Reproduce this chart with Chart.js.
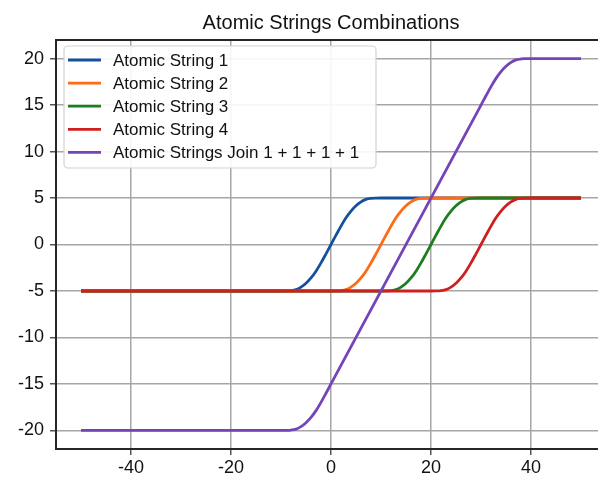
<!DOCTYPE html>
<html>
<head>
<meta charset="utf-8">
<title>Atomic Strings Combinations</title>
<script src="https://cdn.jsdelivr.net/npm/chart.js@4.4.1/dist/chart.umd.min.js"></script>
<style>
  html, body { margin: 0; padding: 0; background: #ffffff; }
  #wrap { width: 598px; height: 477px; overflow: hidden; position: relative; }
  #chart { display: block; }
</style>
</head>
<body>
<div id="wrap"><canvas id="chart" width="612" height="477"></canvas></div>
<script>
// Atomic string 1: smooth step from -5 to 5 centred on x = 0
const string1X = [-50, -10, -9, -8, -7, -6, -5, -4, -3, -2, -1, 0, 1, 2, 3, 4, 5, 6, 7, 8, 9, 10, 50];
const string1Y = [-5, -5, -4.99, -4.96, -4.86, -4.59, -4.17, -3.6, -2.87, -1.98, -1, 0, 1, 1.98, 2.87, 3.6, 4.17, 4.59, 4.86, 4.96, 4.99, 5, 5];

// Atomic string 2: centred on x = 10
const string2X = [-50, 0, 1, 2, 3, 4, 5, 6, 7, 8, 9, 10, 11, 12, 13, 14, 15, 16, 17, 18, 19, 20, 50];
const string2Y = [-5, -5, -4.99, -4.96, -4.86, -4.59, -4.17, -3.6, -2.87, -1.98, -1, 0, 1, 1.98, 2.87, 3.6, 4.17, 4.59, 4.86, 4.96, 4.99, 5, 5];

// Atomic string 3: centred on x = 20
const string3X = [-50, 10, 11, 12, 13, 14, 15, 16, 17, 18, 19, 20, 21, 22, 23, 24, 25, 26, 27, 28, 29, 30, 50];
const string3Y = [-5, -5, -4.99, -4.96, -4.86, -4.59, -4.17, -3.6, -2.87, -1.98, -1, 0, 1, 1.98, 2.87, 3.6, 4.17, 4.59, 4.86, 4.96, 4.99, 5, 5];

// Atomic string 4: centred on x = 30
const string4X = [-50, 20, 21, 22, 23, 24, 25, 26, 27, 28, 29, 30, 31, 32, 33, 34, 35, 36, 37, 38, 39, 40, 50];
const string4Y = [-5, -5, -4.99, -4.96, -4.86, -4.59, -4.17, -3.6, -2.87, -1.98, -1, 0, 1, 1.98, 2.87, 3.6, 4.17, 4.59, 4.86, 4.96, 4.99, 5, 5];

// Joined string 1 + 1 + 1 + 1: from -20 up to 20
const joinX = [-50, -10, -9, -8, -7, -6, -5, -4, -3, -2, -1, 0, 30, 31, 32, 33, 34, 35, 36, 37, 38, 39, 40, 50];
const joinY = [-20, -20, -19.99, -19.96, -19.86, -19.59, -19.17, -18.6, -17.87, -16.98, -16, -15, 15, 16, 16.98, 17.87, 18.6, 19.17, 19.59, 19.86, 19.96, 19.99, 20, 20];

const seriesLabels = ['Atomic String 1', 'Atomic String 2', 'Atomic String 3', 'Atomic String 4', 'Atomic Strings Join 1 + 1 + 1 + 1'];
const seriesColors = ['#15509e', '#ff6a14', '#1e7e1e', '#cf1f1f', '#7444b8'];
const chartTitle = 'Atomic Strings Combinations';
const xTickStep = 20;
const yTickStep = 5;

const FONT = '"Liberation Sans", Arial, Helvetica, sans-serif';

function toPoints(xs, ys) {
  return xs.map((x, i) => ({ x: x, y: ys[i] }));
}

const seriesData = [
  toPoints(string1X, string1Y),
  toPoints(string2X, string2Y),
  toPoints(string3X, string3Y),
  toPoints(string4X, string4Y),
  toPoints(joinX, joinY)
];

// later series sit on top of earlier ones
const datasets = seriesData.map((pts, i) => ({
  label: seriesLabels[i],
  data: pts,
  borderColor: seriesColors[i],
  backgroundColor: seriesColors[i],
  borderWidth: 2.8,
  pointRadius: 0,
  fill: false,
  cubicInterpolationMode: 'monotone',
  order: seriesData.length - 1 - i
}));

// Axes frame, title and the boxed legend inside the plot
const decorations = {
  id: 'decorations',
  afterDatasetsDraw(chart) {
    const { ctx, chartArea } = chart;
    ctx.save();

    // frame
    ctx.strokeStyle = '#262626';
    ctx.lineWidth = 2;
    ctx.strokeRect(chartArea.left, chartArea.top, chartArea.right - chartArea.left, chartArea.bottom - chartArea.top);

    // title
    ctx.fillStyle = '#111111';
    ctx.font = '20px ' + FONT;
    ctx.textAlign = 'center';
    ctx.textBaseline = 'alphabetic';
    ctx.fillText(chartTitle, (chartArea.left + chartArea.right) / 2, 29);

    // legend box
    const bx = 64, by = 46, bw = 312, bh = 122, r = 4;
    ctx.beginPath();
    ctx.moveTo(bx + r, by);
    ctx.lineTo(bx + bw - r, by);
    ctx.arcTo(bx + bw, by, bx + bw, by + r, r);
    ctx.lineTo(bx + bw, by + bh - r);
    ctx.arcTo(bx + bw, by + bh, bx + bw - r, by + bh, r);
    ctx.lineTo(bx + r, by + bh);
    ctx.arcTo(bx, by + bh, bx, by + bh - r, r);
    ctx.lineTo(bx, by + r);
    ctx.arcTo(bx, by, bx + r, by, r);
    ctx.closePath();
    ctx.fillStyle = 'rgba(255,255,255,0.9)';
    ctx.fill();
    ctx.strokeStyle = '#d2d2d2';
    ctx.lineWidth = 1.2;
    ctx.stroke();

    ctx.font = '17px ' + FONT;
    ctx.textAlign = 'left';
    ctx.textBaseline = 'middle';
    chart.data.datasets.forEach((ds, i) => {
      const y = 60 + i * 23.1;
      ctx.strokeStyle = ds.borderColor;
      ctx.lineWidth = 2.8;
      ctx.beginPath();
      ctx.moveTo(68, y);
      ctx.lineTo(101, y);
      ctx.stroke();
      ctx.fillStyle = '#111111';
      ctx.fillText(ds.label, 113, y + 1);
    });

    ctx.restore();
  }
};

new Chart(document.getElementById('chart'), {
  type: 'line',
  data: { datasets: datasets },
  options: {
    responsive: false,
    animation: false,
    layout: { padding: { top: 40, right: 6, left: 0, bottom: 0 } },
    plugins: {
      legend: { display: false },
      title: { display: false },
      tooltip: { enabled: false }
    },
    scales: {
      x: {
        type: 'linear',
        min: -55,
        max: 55,
        afterFit(scale) { scale.height = 28; },
        ticks: {
          stepSize: xTickStep,
          includeBounds: false,
          color: '#111111',
          font: { family: FONT, size: 18 },
          padding: 2,
          maxRotation: 0
        },
        grid: {
          color: '#a6a6a6',
          lineWidth: 1.5,
          tickLength: 6,
          tickColor: '#555555',
          drawTicks: true
        },
        border: { display: false }
      },
      y: {
        type: 'linear',
        min: -22,
        max: 22,
        afterFit(scale) { scale.width = 56; },
        ticks: {
          stepSize: yTickStep,
          includeBounds: false,
          color: '#111111',
          font: { family: FONT, size: 18 },
          padding: 6
        },
        grid: {
          color: '#a6a6a6',
          lineWidth: 1.5,
          tickLength: 6,
          tickColor: '#555555',
          drawTicks: true
        },
        border: { display: false }
      }
    }
  },
  plugins: [decorations]
});
</script>
</body>
</html>
